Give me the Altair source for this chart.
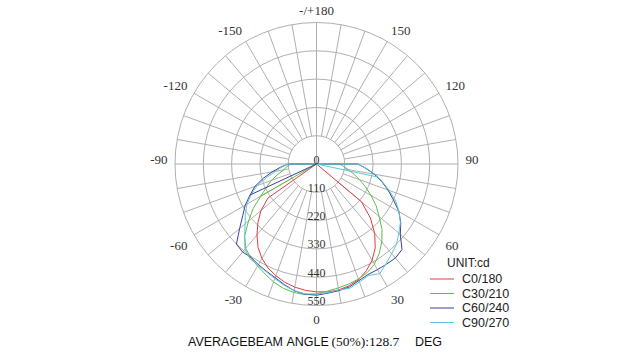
import math
import altair as alt
import pandas as pd

# ---------------- data ----------------
gamma = list(range(-90, 95, 5))  # vertical angle, degrees (0 = down)

c0_180 = [0, 0, 0, 0, 0, 0, 0,
          230, 282, 322, 360, 396, 424, 446, 462, 476, 486, 493, 497,
          499, 497, 490, 478, 458, 432, 398, 352, 296, 228,
          0, 0, 0, 0, 0, 0, 0, 0]
c30_210 = [100, 115, 130, 155, 187, 215, 250, 300, 345, 395, 428, 445, 458, 472, 488, 500, 507, 510,
           505, 496, 489, 483, 476, 466, 450, 425, 395, 360, 318, 283, 245, 210, 178, 150, 125, 105, 92]
c60_240 = [110, 140, 175, 214, 255, 285, 320, 350, 390, 440, 447, 443, 452, 460, 470, 485, 500, 508,
           510, 504, 500, 495, 482, 474, 474, 475, 477, 470, 425, 400, 370, 330, 296, 262, 228, 192, 161]
c90_270 = [110, 135, 160, 200, 245, 280, 312, 338, 362, 395, 433, 450, 455, 462, 474, 488, 500, 507,
           505, 502, 497, 500, 488, 478, 492, 472, 455, 440, 418, 398, 370, 340, 300, 265, 232, 195, 161]

curve_names = ["C0/180", "C30/210", "C60/240", "C90/270"]
curve_values = [c0_180, c30_210, c60_240, c90_270]

# straight strokes from the centre to a point of the curve
spoke_curve = ["C30/210", "C60/240", "C90/270"]
spoke_gamma = [-60, -65, 78]
spoke_value = [250, 285, 245]

ring_values = [110, 220, 330, 440, 550]
ring_labels = ["0", "110", "220", "330", "440", "550"]
ring_label_values = [0, 110, 220, 330, 440, 550]
angle_label_pos = [0, 30, 60, 90, 120, 150, 180, -150, -120, -90, -60, -30]
angle_label_txt = ["0", "30", "60", "90", "120", "150", "-/+180", "-150", "-120", "-90", "-60", "-30"]
grid_angles = list(range(0, 360, 10))

# ---------------- layout ----------------
W, H = 628, 353
CX, CY = 316.5, 164.0
RMAX_PX = 141.5
RMAX = 550.0
K = RMAX_PX / RMAX
XD = [-CX / K, (W - CX) / K]
YD = [-(H - CY) / K, CY / K]

colors = ["#e23c3c", "#5cbf4a", "#3c3f9e", "#5fc8d6"]
grid_col = "#b0b0b0"
text_col = "#333333"

xs = alt.Scale(domain=XD, nice=False, zero=False)
ys = alt.Scale(domain=YD, nice=False, zero=False)
X = lambda f: alt.X(f, type="quantitative", scale=xs, axis=None)
Y = lambda f: alt.Y(f, type="quantitative", scale=ys, axis=None)

# curves
rows = []
for name, vals in zip(curve_names, curve_values):
    seq = [(-90, 0)] + list(zip(gamma, vals)) + [(90, 0)]
    for i, (g, v) in enumerate(seq):
        rows.append({"curve": name, "seg": name + "_m", "i": i, "ang": g, "val": v})
for name, g, v in zip(spoke_curve, spoke_gamma, spoke_value):
    rows.append({"curve": name, "seg": name + "_s", "i": 0, "ang": g, "val": 0})
    rows.append({"curve": name, "seg": name + "_s", "i": 1, "ang": g, "val": v})
curves_df = pd.DataFrame(rows)

curves = alt.Chart(curves_df).transform_calculate(
    px="datum.val * sin(datum.ang * PI / 180)",
    py="-datum.val * cos(datum.ang * PI / 180)",
).mark_line(strokeWidth=1, interpolate="linear").encode(
    x=X("px"), y=Y("py"),
    color=alt.Color("curve:N", scale=alt.Scale(domain=curve_names, range=colors), legend=None),
    detail="seg:N",
    order="i:Q",
)

# grid rings
rings = alt.Chart(pd.DataFrame({"r": ring_values})).transform_calculate(
    px="0", py="0", sz=f"pow(2 * datum.r * {K}, 2)"
).mark_point(shape="circle", filled=False, stroke=grid_col, strokeWidth=1, opacity=1).encode(
    x=X("px"), y=Y("py"), size=alt.Size("sz:Q", scale=None, legend=None)
)

# radial grid lines
spk = alt.Chart(pd.DataFrame({"a": grid_angles})).transform_calculate(
    r0=f"datum.a % 90 == 0 ? 0 : {ring_values[0]}",
    x1=f"datum.r0 * sin(datum.a * PI / 180)",
    y1=f"-datum.r0 * cos(datum.a * PI / 180)",
    x2=f"{RMAX} * sin(datum.a * PI / 180)",
    y2=f"-{RMAX} * cos(datum.a * PI / 180)",
).mark_rule(color=grid_col, strokeWidth=1).encode(
    x=X("x1"), y=Y("y1"), x2="x2:Q", y2="y2:Q"
)

# radial value labels
rl = alt.Chart(pd.DataFrame({"t": ring_labels, "v": ring_label_values})).transform_calculate(
    px="0", py=f"-datum.v + {4.5 / K}"
).mark_text(font="Liberation Serif", fontSize=12, color=text_col, baseline="middle", align="center").encode(
    x=X("px"), y=Y("py"), text="t:N"
)

layers = [rings, spk, curves, rl]

# angle labels: anchored just outside the outer ring, aligned away from the centre
al_df = pd.DataFrame({"a": angle_label_pos, "t": angle_label_txt})
RA = 149.0 / K


def grp(a):
    s = math.sin(math.radians(a))
    c = math.cos(math.radians(a))
    al = "center" if abs(s) < 0.01 else ("left" if s > 0 else "right")
    if abs(c) < 0.01:
        bl = "middle"
    else:
        bl = "alphabetic" if c < 0 else "top"
    return al + "|" + bl


al_df["g"] = [grp(a) for a in angle_label_pos]
for g in sorted(set(al_df["g"])):
    al, bl = g.split("|")
    dy = -4 if bl == "middle" else (1 if bl == "top" else 0)
    layers.append(alt.Chart(al_df).transform_filter(alt.datum.g == g).transform_calculate(
        px=f"{RA} * sin(datum.a * PI / 180)",
        py=f"-{RA} * cos(datum.a * PI / 180)",
    ).mark_text(font="Liberation Serif", fontSize=13, color=text_col, align=al, baseline=bl, dy=dy).encode(
        x=X("px"), y=Y("py"), text="t:N"
    ))

# legend
leg_df = pd.DataFrame({"t": ["UNIT:cd"]})
layers.append(alt.Chart(leg_df).mark_text(font="Liberation Sans", fontSize=12, color="#222", align="left",
                                          baseline="middle").encode(
    x=alt.value(447), y=alt.value(263), text="t:N"))
for i, (name, col) in enumerate(zip(curve_names, colors)):
    yy = 279 + 14.5 * i
    d = pd.DataFrame({"t": [name]})
    layers.append(alt.Chart(d).mark_rule(color=col, strokeWidth=1).encode(
        x=alt.value(430), x2=alt.value(454), y=alt.value(yy)))
    layers.append(alt.Chart(d).mark_text(font="Liberation Sans", fontSize=12.5, color="#222", align="left",
                                         baseline="middle").encode(
        x=alt.value(462), y=alt.value(yy), text="t:N"))

# bottom caption
cap_txt = ["AVERAGEBEAM", "ANGLE", "(50%):128.7", "DEG"]
cap_x = [188, 286.5, 331.5, 415]
cap_font = ["Liberation Sans", "Liberation Sans", "Liberation Serif", "Liberation Sans"]
cap_size = [12.5, 12.5, 13.5, 12.5]
for t, x0, f, s in zip(cap_txt, cap_x, cap_font, cap_size):
    layers.append(alt.Chart(pd.DataFrame({"t": [t]})).mark_text(
        font=f, fontSize=s, color="#111", align="left", baseline="middle").encode(
        x=alt.value(x0), y=alt.value(341.5), text="t:N"))

chart = alt.layer(*layers).properties(
    width=W, height=H, padding=0, autosize=alt.AutoSizeParams(type="none"), background="white"
).configure_view(stroke=None)

chart.save("out.html", embed_options={"renderer": "svg", "actions": False})
